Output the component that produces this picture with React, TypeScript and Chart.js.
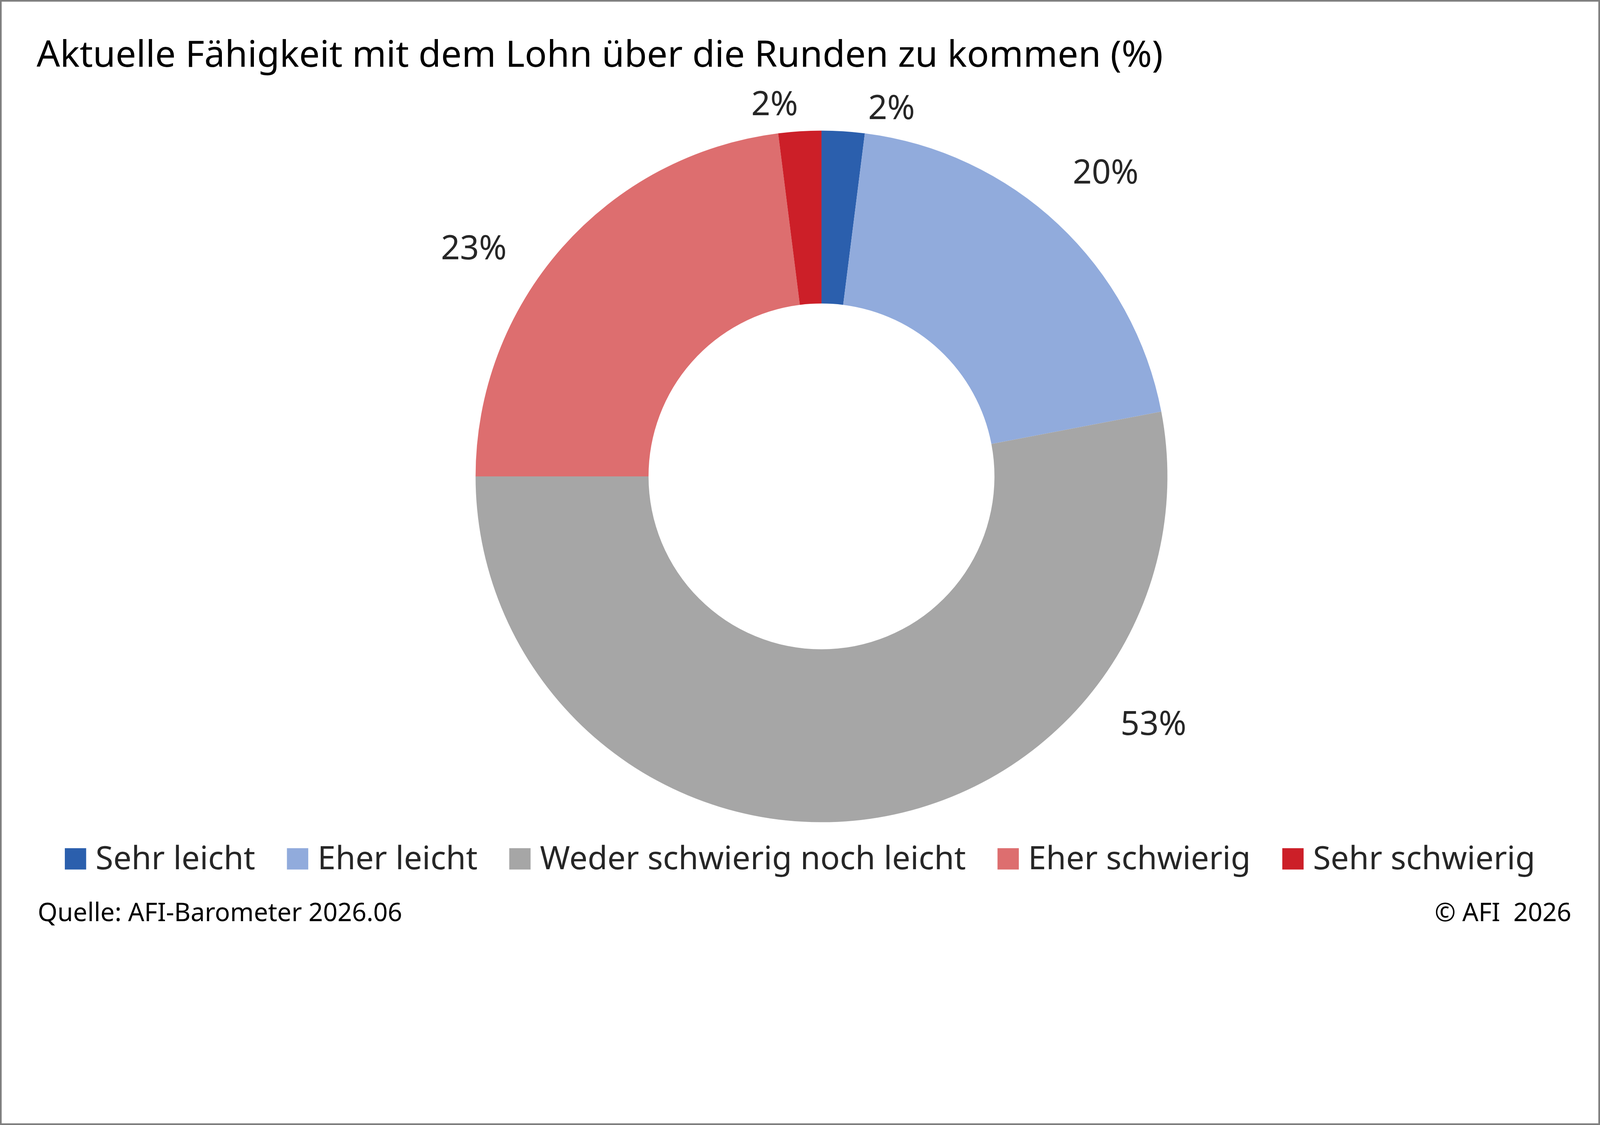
import React, { useEffect, useRef } from "react";
import { Chart, registerables } from "chart.js";
Chart.register(...registerables);

const title = "Aktuelle Fähigkeit mit dem Lohn über die Runden zu kommen (%)";
const categories = ["Sehr leicht", "Eher leicht", "Weder schwierig noch leicht", "Eher schwierig", "Sehr schwierig"];
const values = [2, 20, 53, 23, 2];
const colors = ["#2b5fad", "#91abdc", "#a6a6a6", "#dd6e6f", "#cc1f28"];
const source = "Quelle: AFI-Barometer 2026.06";
const copyright = "© AFI  2026";
// label placement along each slice (fraction of its sweep) and radius factor
const labelFrac = [1.5, 0.5, 0.25, 0.4, 0];
const labelRad = [1.08, 1.2, 1.2, 1.2, 1.08];

const FONT = '"Noto Sans", sans-serif';
const BASE_W = 4801;

const decor = {
  id: "decor",
  afterDraw(chart: any) {
    const ctx = chart.ctx;
    const W = chart.width, H = chart.height;
    const k = W / BASE_W;
    ctx.save();
    ctx.strokeStyle = "#7f7f7f";
    ctx.lineWidth = 5 * k;
    ctx.strokeRect(2.5 * k, 2.5 * k, W - 5 * k, H - 5 * k);
    ctx.fillStyle = "#000";
    ctx.textBaseline = "alphabetic";
    ctx.textAlign = "left";
    ctx.font = `${110 * k}px ${FONT}`;
    ctx.fillText(title, 110 * k, 200 * k);
    const meta = chart.getDatasetMeta(0);
    ctx.font = `${100 * k}px ${FONT}`;
    ctx.fillStyle = "#262626";
    ctx.textAlign = "center";
    ctx.textBaseline = "middle";
    meta.data.forEach((arc: any, i: number) => {
      const p = arc.getProps(["x", "y", "startAngle", "endAngle", "outerRadius"], true);
      const a = p.startAngle + (p.endAngle - p.startAngle) * labelFrac[i];
      const r = p.outerRadius * labelRad[i];
      ctx.fillText(values[i] + "%", p.x + Math.cos(a) * r, p.y + Math.sin(a) * r);
    });
    ctx.font = `${97 * k}px ${FONT}`;
    const sq = 64 * k, gapSq = 28 * k, gapItem = 95 * k;
    const widths = categories.map((c) => sq + gapSq + ctx.measureText(c).width);
    const total = widths.reduce((s, w) => s + w, 0) + gapItem * (categories.length - 1);
    let x = (W - total) / 2;
    const ly = 2578 * k;
    ctx.textAlign = "left";
    categories.forEach((c, i) => {
      ctx.fillStyle = colors[i];
      ctx.fillRect(x, ly - sq / 2, sq, sq);
      ctx.fillStyle = "#262626";
      ctx.fillText(c, x + sq + gapSq, ly + 4 * k);
      x += widths[i] + gapItem;
    });
    ctx.font = `${76 * k}px ${FONT}`;
    ctx.fillStyle = "#000";
    ctx.textBaseline = "alphabetic";
    ctx.fillText(source, 113 * k, 2765 * k);
    ctx.textAlign = "right";
    ctx.fillText(copyright, 4715 * k, 2765 * k);
    ctx.restore();
  },
};

export default function App() {
  const ref = useRef<HTMLCanvasElement>(null);
  useEffect(() => {
    const W = window.innerWidth, H = window.innerHeight;
    const k = W / BASE_W;
    const cx = 2465 * k, cy = 1430 * k, r = 1038 * k;
    const half = 1100 * k;
    const chart = new Chart(ref.current!, {
      type: "doughnut",
      data: {
        labels: categories,
        datasets: [{ data: values, backgroundColor: colors, borderWidth: 0 }],
      },
      options: {
        animation: false,
        responsive: true,
        maintainAspectRatio: false,
        cutout: "50%",
        layout: { padding: { top: cy - r, bottom: H - (cy + r), left: cx - half, right: W - (cx + half) } },
        plugins: { legend: { display: false }, tooltip: { enabled: false } },
      },
      plugins: [decor],
    });
    return () => chart.destroy();
  }, []);
  return (
    <div style={{ position: "fixed", left: 0, top: 0, width: "100vw", height: "100vh", background: "#fff" }}>
      <canvas ref={ref} />
    </div>
  );
}
